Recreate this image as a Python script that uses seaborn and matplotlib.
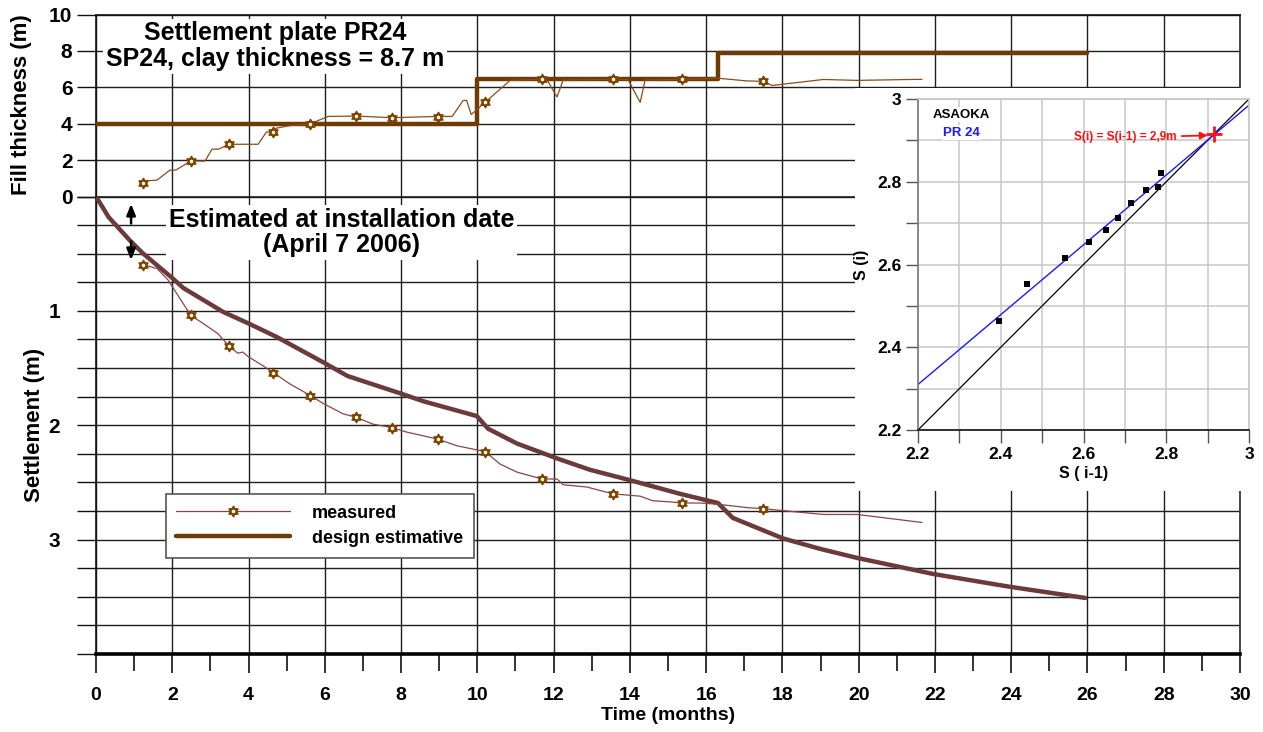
import numpy as np
import pandas as pd
import matplotlib
matplotlib.use("Agg")
import matplotlib.pyplot as plt
import seaborn as sns
from matplotlib.ticker import MultipleLocator, FixedLocator
from matplotlib.lines import Line2D
from matplotlib.path import Path

# ---------------- data ----------------
# design fill thickness (step changes)
fill_design_t = [0, 10, 16.3, 26]
fill_design_v = [4.0, 6.45, 7.9, 7.9]

# measured fill thickness (continuous record)
fill_meas_t = [1.23, 1.6, 1.94, 2.09, 2.49, 2.86, 3.04, 3.21, 3.49, 4.25, 4.47, 4.65, 4.72, 5.1,
               5.62, 6.09, 6.82, 7.76, 8.96, 9.34, 9.63, 9.72, 9.84, 10.2, 10.86, 11.7, 11.82,
               12.09, 12.25, 13.56, 13.95, 14.27, 14.4, 15.37, 16.3, 17.07, 17.5, 17.73, 19.07,
               19.96, 21.66]
fill_meas_v = [0.85, 0.9, 1.45, 1.45, 1.95, 1.95, 2.6, 2.6, 2.87, 2.87, 3.54, 3.55, 3.75, 3.9,
               4.0, 4.4, 4.42, 4.33, 4.4, 4.4, 5.28, 5.28, 4.5, 5.17, 6.38, 6.44, 6.44,
               5.47, 6.4, 6.43, 6.43, 5.17, 6.4, 6.43, 6.5, 6.35, 6.33, 6.1, 6.43,
               6.38, 6.44]

# survey dates (markers)
survey_t = [1.23, 2.49, 3.49, 4.65, 5.62, 6.82, 7.76, 8.96, 10.2, 11.7, 13.56, 15.37, 17.5]
survey_fill = [0.74, 1.95, 2.87, 3.55, 3.97, 4.42, 4.33, 4.38, 5.17, 6.44, 6.43, 6.43, 6.33]
survey_settle = [0.595, 1.04, 1.31, 1.54, 1.74, 1.93, 2.02, 2.12, 2.23, 2.47, 2.60, 2.68, 2.73]

# measured settlement (continuous record)
settle_meas_t = [1.23, 1.6, 1.89, 2.12, 2.39, 2.49, 2.81, 3.2, 3.49, 3.72, 3.85, 3.99, 4.38, 4.65,
                 5.09, 5.62, 5.96, 6.48, 6.82, 7.26, 7.76, 8.15, 8.95, 9.47, 10.2, 10.6, 11.04,
                 11.7, 12.09, 12.25, 12.87, 13.56, 14.27, 14.6, 15.05, 15.37, 15.84, 16.29,
                 17.07, 17.5, 19.07, 19.96, 21.66]
settle_meas_v = [0.595, 0.63, 0.73, 0.85, 0.99, 1.04, 1.11, 1.2, 1.31, 1.37, 1.36, 1.40, 1.48, 1.54,
                 1.64, 1.74, 1.81, 1.90, 1.93, 1.99, 2.02, 2.06, 2.12, 2.18, 2.23, 2.34, 2.41,
                 2.47, 2.47, 2.52, 2.54, 2.60, 2.62, 2.66, 2.67, 2.68, 2.68, 2.69,
                 2.72, 2.73, 2.78, 2.78, 2.85]

# design settlement estimate
settle_design_t = [0, 0.33, 0.89, 1.24, 1.99, 2.29, 3.34, 4.0, 4.75, 5.96, 6.6, 7.97, 8.58, 9.99,
                   10.28, 11.04, 12.09, 12.96, 14.0, 15.32, 16.31, 16.7, 18.02, 18.98, 19.96,
                   21.95, 23.92, 25.94]
settle_design_v = [0, 0.18, 0.385, 0.5, 0.71, 0.8, 1.01, 1.11, 1.23, 1.45, 1.57, 1.72, 1.79, 1.92,
                   2.03, 2.16, 2.29, 2.39, 2.48, 2.6, 2.68, 2.81, 2.99, 3.08, 3.16,
                   3.30, 3.41, 3.51]

# Asaoka inset
asaoka_prev = [2.396, 2.464, 2.555, 2.614, 2.655, 2.684, 2.714, 2.750, 2.781, 2.788]
asaoka_curr = [2.464, 2.554, 2.615, 2.654, 2.683, 2.712, 2.748, 2.779, 2.787, 2.822]
asaoka_fit_x = [2.2, 3.0]
asaoka_fit_y = [2.31, 2.985]
identity_xy = [2.2, 3.0]
asaoka_final = 2.915

x_ticks = list(range(0, 31, 2))
fill_ticks = [0, 2, 4, 6, 8, 10]
settle_ticks = [1, 2, 3]
inset_ticks = [2.2, 2.4, 2.6, 2.8, 3.0]

# ---------------- style ----------------
sns.set_theme(style="white")
plt.rcParams["font.family"] = ["Liberation Sans", "DejaVu Sans"]
plt.rcParams["font.weight"] = "bold"
plt.rcParams["axes.labelweight"] = "bold"
for k in ["text.color", "axes.labelcolor", "xtick.color", "ytick.color"]:
    plt.rcParams[k] = "black"

C_FILL_DES = "#6e3a06"
C_SET_DES = "#6b3a3a"
C_FILL_MEAS = "#8b4d1a"
C_SET_MEAS = "#8b4545"
C_MK_EDGE = "#7a4500"
C_MK_FACE = "#fff4da"
GRID_C = "#1e1e1e"

# hexagram marker
ang_up = np.deg2rad([90, 210, 330])
ang_dn = np.deg2rad([270, 30, 150])
verts = [(np.cos(a), np.sin(a)) for a in ang_up] + [(0, 0)] + \
        [(np.cos(a), np.sin(a)) for a in ang_dn] + [(0, 0)]
codes = [Path.MOVETO, Path.LINETO, Path.LINETO, Path.CLOSEPOLY] * 2
hexagram = Path(verts, codes)

W, H = 1263, 732
fig = plt.figure(figsize=(W / 100, H / 100), dpi=100)

def fx(px):
    return px / W

def fy(py):
    return 1 - py / H

x0, x1 = 96, 1240
ax_top = fig.add_axes([fx(x0), fy(196.5), fx(x1 - x0), (196.5 - 14.5) / H])
ax_bot = fig.add_axes([fx(x0), fy(654), fx(x1 - x0), (654 - 196.5) / H])

# ---------- top axes: fill thickness ----------
sns.lineplot(x=fill_design_t, y=fill_design_v, ax=ax_top, color=C_FILL_DES, lw=3.2,
             drawstyle="steps-post", estimator=None, zorder=4)
sns.lineplot(x=fill_meas_t, y=fill_meas_v, ax=ax_top, color=C_FILL_MEAS, lw=0.9,
             estimator=None, zorder=5)
sns.scatterplot(x=survey_t, y=survey_fill, ax=ax_top, marker=hexagram, s=55,
                facecolor=C_MK_FACE, edgecolor=C_MK_EDGE, linewidth=1.1, zorder=6)

ax_top.set_xlim(0, 30)
ax_top.set_ylim(0, 10)
ax_top.set_xticks(x_ticks)
ax_top.set_yticks(fill_ticks)
ax_top.tick_params(axis="x", length=0, labelbottom=False)
ax_top.tick_params(axis="y", direction="out", length=14, width=1, color="#111",
                   labelsize=15, pad=3, left=True, labelcolor="black")
for lab in ax_top.get_yticklabels():
    lab.set_fontweight("bold")
ax_top.set_axisbelow(True)
ax_top.grid(True, color=GRID_C, lw=1.0)
for s in ["top", "left"]:
    ax_top.spines[s].set_color("#111")
    ax_top.spines[s].set_linewidth(1.2)
ax_top.spines["bottom"].set_color("#111")
ax_top.spines["bottom"].set_linewidth(1.8)
ax_top.spines["right"].set_color("#333")
ax_top.set_xlabel("")
ax_top.set_ylabel("")

ax_top.text(4.7, 8.25, "Settlement plate PR24\nSP24, clay thickness = 8.7 m",
            ha="center", va="center", fontsize=18, fontweight="bold", linespacing=1.1,
            color="black", bbox=dict(facecolor="white", edgecolor="none", pad=2), zorder=3)

# ---------- bottom axes: settlement ----------
sns.lineplot(x=settle_design_t, y=settle_design_v, ax=ax_bot, color=C_SET_DES, lw=3.2,
             estimator=None, sort=False, zorder=4)
sns.lineplot(x=settle_meas_t, y=settle_meas_v, ax=ax_bot, color=C_SET_MEAS, lw=0.9,
             estimator=None, sort=False, zorder=5)
sns.scatterplot(x=survey_t, y=survey_settle, ax=ax_bot, marker=hexagram, s=55,
                facecolor=C_MK_FACE, edgecolor=C_MK_EDGE, linewidth=1.1, zorder=6)

ax_bot.set_xlim(0, 30)
ax_bot.set_ylim(4, 0)
ax_bot.set_xticks(x_ticks)
ax_bot.xaxis.set_minor_locator(MultipleLocator(1))
ax_bot.set_yticks(settle_ticks)
ax_bot.yaxis.set_minor_locator(MultipleLocator(0.25))
ax_bot.tick_params(axis="x", which="major", direction="out", length=14, width=1.2,
                   color="#111", labelsize=14, pad=10, bottom=True, labelcolor="black")
ax_bot.tick_params(axis="x", which="minor", direction="out", length=12, width=1.2,
                   color="#111", bottom=True)
ax_bot.tick_params(axis="y", which="both", direction="out", length=14, width=1,
                   color="#111", labelsize=15, pad=12, left=True, labelcolor="black")
for lab in ax_bot.get_xticklabels() + ax_bot.get_yticklabels():
    lab.set_fontweight("bold")
ax_bot.set_axisbelow(True)
ax_bot.grid(True, which="major", axis="x", color=GRID_C, lw=1.0)
ax_bot.grid(True, which="both", axis="y", color=GRID_C, lw=1.0)
ax_bot.spines["top"].set_visible(False)
ax_bot.spines["left"].set_color("#111")
ax_bot.spines["left"].set_linewidth(1.2)
ax_bot.spines["bottom"].set_color("#000")
ax_bot.spines["bottom"].set_linewidth(2.6)
ax_bot.spines["right"].set_color("#333")
ax_bot.set_xlabel("Time (months)", fontsize=14, fontweight="bold", labelpad=2, color="black")
ax_bot.set_ylabel("")

ax_bot.text(6.45, 0.315, "Estimated at installation date\n(April 7 2006)",
            ha="center", va="center", fontsize=18, fontweight="bold", linespacing=1.1,
            color="black", bbox=dict(facecolor="white", edgecolor="none", pad=2), zorder=3)
ax_bot.annotate("", xy=(0.92, 0.04), xytext=(0.92, 0.26),
                arrowprops=dict(arrowstyle="-|>,head_width=0.22,head_length=0.55",
                                color="black", lw=1.8), zorder=7)
ax_bot.annotate("", xy=(0.92, 0.58), xytext=(0.92, 0.37),
                arrowprops=dict(arrowstyle="-|>,head_width=0.22,head_length=0.55",
                                color="black", lw=1.8), zorder=7)

handles = [
    Line2D([], [], color=C_SET_MEAS, lw=0.9, marker=hexagram, markersize=7.5,
           markerfacecolor=C_MK_FACE, markeredgecolor=C_MK_EDGE, markeredgewidth=1.1),
    Line2D([], [], color=C_FILL_DES, lw=3.2),
]
leg = ax_bot.legend(handles, ["measured", "design estimative"], loc="upper left",
                    bbox_to_anchor=(0.053, 0.37), prop={"weight": "bold", "size": 13},
                    handlelength=6.3, handletextpad=1.2, labelspacing=0.45,
                    borderpad=0.6, fancybox=False, framealpha=1, edgecolor="#555")
leg.get_frame().set_linewidth(1.2)
for t in leg.get_texts():
    t.set_color("black")

fig.text(fx(22), fy(105), "Fill thickness (m)", rotation=90, ha="center", va="center",
         fontsize=16, fontweight="bold", color="black")
fig.text(fx(35), fy(425), "Settlement (m)", rotation=90, ha="center", va="center",
         fontsize=16, fontweight="bold", color="black")

# ---------- inset background + Asaoka plot ----------
ax_bg = fig.add_axes([fx(855), fy(491), fx(1263 - 855), (491 - 88) / H])
ax_bg.set_facecolor("white")
ax_bg.set_xticks([])
ax_bg.set_yticks([])
for s in ax_bg.spines.values():
    s.set_visible(False)
ax_bg.set_zorder(5)

ax_in = fig.add_axes([fx(918), fy(430), fx(1249 - 918), (430 - 99) / H])
ax_in.set_zorder(6)
sns.lineplot(x=identity_xy, y=identity_xy, ax=ax_in, color="black", lw=0.9, estimator=None)
sns.lineplot(x=asaoka_fit_x, y=asaoka_fit_y, ax=ax_in, color="#1a1aff", lw=1.0, estimator=None)
sns.scatterplot(x=asaoka_prev, y=asaoka_curr, ax=ax_in, marker="s", s=22, color="black",
                edgecolor="black", linewidth=0, zorder=5)
sns.scatterplot(x=[asaoka_final], y=[asaoka_final], ax=ax_in, marker="+", s=130,
                color="#ff1010", linewidth=2, zorder=6)
ax_in.set_xlim(2.2, 3.0)
ax_in.set_ylim(2.2, 3.0)
ax_in.set_xticks(inset_ticks)
ax_in.set_yticks(inset_ticks)
ax_in.set_xticklabels(["2.2", "2.4", "2.6", "2.8", "3"])
ax_in.set_yticklabels(["2.2", "2.4", "2.6", "2.8", "3"])
ax_in.xaxis.set_minor_locator(MultipleLocator(0.1))
ax_in.yaxis.set_minor_locator(MultipleLocator(0.1))
ax_in.tick_params(axis="both", which="both", direction="out", length=9, width=1,
                  color="#555", labelsize=12.5, pad=3, left=True, bottom=True,
                  labelcolor="black")
for lab in ax_in.get_xticklabels() + ax_in.get_yticklabels():
    lab.set_fontweight("bold")
ax_in.set_axisbelow(True)
ax_in.grid(True, which="both", color="#c8c8c8", lw=1.1)
ax_in.spines["left"].set_color("#777")
ax_in.spines["left"].set_linewidth(1.2)
ax_in.spines["bottom"].set_color("#111")
ax_in.spines["bottom"].set_linewidth(1.2)
ax_in.spines["top"].set_color("#c8c8c8")
ax_in.spines["right"].set_color("#c8c8c8")
ax_in.set_xlabel("S ( i-1)", fontsize=11.5, fontweight="bold", labelpad=3, color="black")
ax_in.set_ylabel("S (i)", fontsize=11.5, fontweight="bold", labelpad=6, color="black")

ax_in.text(2.305, 2.962, "ASAOKA", ha="center", va="center", fontsize=9.5,
           fontweight="bold", color="black",
           bbox=dict(facecolor="white", edgecolor="none", pad=1))
ax_in.text(2.305, 2.918, "PR 24", ha="center", va="center", fontsize=9.5,
           fontweight="bold", color="#1a1aff",
           bbox=dict(facecolor="white", edgecolor="none", pad=1))
ax_in.annotate("S(i) = S(i-1) = 2,9m", xy=(2.9, 2.912), xytext=(2.826, 2.907),
               ha="right", va="center", fontsize=8.5, fontweight="bold", color="#ff1010",
               arrowprops=dict(arrowstyle="-|>,head_width=0.25,head_length=0.5",
                               color="#ff1010", lw=1.3, shrinkA=1, shrinkB=0))

fig.savefig("out.png", dpi=100)
